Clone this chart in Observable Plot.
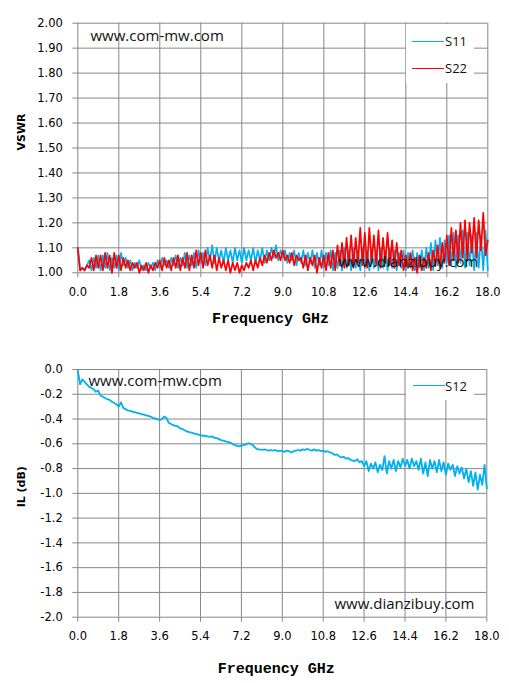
<!DOCTYPE html>
<html>
<head>
<meta charset="utf-8">
<script src="https://cdn.jsdelivr.net/npm/d3@7"></script>
<script src="https://cdn.jsdelivr.net/npm/@observablehq/plot@0.6"></script>
<style>
  body { margin: 0; background: #fff; }
  #wrap { position: relative; width: 509px; height: 683px; background: #fff; overflow: hidden; }
  #wrap svg { display: block; }
  .abs { position: absolute; }
  .legtxt { position: absolute; font-family: "Open Sans", sans-serif; font-size: 13px; line-height: 16px; color: #111; white-space: nowrap; }
</style>
</head>
<body>
<div id="wrap">
  <div id="topChart"></div>
  <div id="botChart"></div>
</div>
<script>
// ---------- DATA ----------
const freqStep = 0.1; // GHz, sample spacing of the traces (0.0 ... 18.0)
const xTicks = [0, 1.8, 3.6, 5.4, 7.2, 9.0, 10.8, 12.6, 14.4, 16.2, 18.0];
const vswrTicks = [1.0, 1.1, 1.2, 1.3, 1.4, 1.5, 1.6, 1.7, 1.8, 1.9, 2.0];
const ilTicks = [0, -0.2, -0.4, -0.6, -0.8, -1.0, -1.2, -1.4, -1.6, -1.8, -2.0];
const seriesNames = ["S11", "S22", "S12"];
const xTitle = "Frequency GHz";
const watermark1 = "www.com-mw.com";
const watermark2 = "www.dianzibuy.com";

const s11 = [
  1.10, 1.01, 1.02, 1.01, 1.03, 1.05, 1.01, 1.06, 1.02, 1.07,
  1.01, 1.07, 1.02, 1.08, 1.01, 1.06, 1.02, 1.07, 1.01, 1.08,
  1.03, 1.06, 1.02, 1.05, 1.01, 1.04, 1.02, 1.05, 1.01, 1.03,
  1.01, 1.04, 1.02, 1.04, 1.01, 1.05, 1.02, 1.06, 1.03, 1.05,
  1.02, 1.06, 1.03, 1.07, 1.02, 1.06, 1.03, 1.08, 1.02, 1.07,
  1.03, 1.08, 1.02, 1.09, 1.04, 1.08, 1.03, 1.10, 1.05, 1.11,
  1.04, 1.10, 1.05, 1.09, 1.04, 1.10, 1.05, 1.09, 1.04, 1.10,
  1.05, 1.09, 1.04, 1.10, 1.05, 1.09, 1.05, 1.10, 1.04, 1.09,
  1.05, 1.10, 1.04, 1.09, 1.05, 1.10, 1.06, 1.11, 1.05, 1.09,
  1.06, 1.09, 1.04, 1.08, 1.05, 1.09, 1.03, 1.08, 1.04, 1.09,
  1.03, 1.08, 1.04, 1.09, 1.02, 1.08, 1.03, 1.09, 1.02, 1.08,
  1.03, 1.09, 1.01, 1.08, 1.02, 1.09, 1.01, 1.10, 1.02, 1.09,
  1.01, 1.10, 1.02, 1.09, 1.01, 1.10, 1.02, 1.09, 1.01, 1.10,
  1.02, 1.09, 1.01, 1.10, 1.02, 1.09, 1.01, 1.10, 1.02, 1.09,
  1.01, 1.08, 1.02, 1.09, 1.01, 1.08, 1.02, 1.09, 1.01, 1.08,
  1.02, 1.09, 1.01, 1.10, 1.02, 1.12, 1.01, 1.13, 1.03, 1.14,
  1.02, 1.13, 1.04, 1.15, 1.03, 1.16, 1.02, 1.15, 1.04, 1.17,
  1.02, 1.16, 1.03, 1.15, 1.01, 1.16, 1.02, 1.15, 1.01, 1.17,
  1.01
];

const s22 = [
  1.10, 1.01, 1.02, 1.01, 1.03, 1.02, 1.06, 1.01, 1.07, 1.02,
  1.07, 1.01, 1.08, 1.02, 1.07, 1.00, 1.08, 1.02, 1.07, 1.01,
  1.06, 1.02, 1.05, 1.01, 1.04, 1.02, 1.04, 1.00, 1.03, 1.01,
  1.04, 1.00, 1.03, 1.01, 1.04, 1.02, 1.05, 1.01, 1.06, 1.02,
  1.05, 1.01, 1.06, 1.02, 1.07, 1.01, 1.06, 1.02, 1.08, 1.01,
  1.07, 1.02, 1.09, 1.03, 1.08, 1.02, 1.09, 1.03, 1.07, 1.02,
  1.07, 1.01, 1.06, 1.02, 1.05, 1.01, 1.05, 1.00, 1.04, 1.01,
  1.04, 1.00, 1.03, 1.01, 1.04, 1.02, 1.05, 1.01, 1.05, 1.02,
  1.06, 1.03, 1.07, 1.04, 1.08, 1.05, 1.09, 1.06, 1.08, 1.05,
  1.09, 1.05, 1.07, 1.04, 1.08, 1.03, 1.07, 1.05, 1.06, 1.02,
  1.07, 1.01, 1.06, 1.03, 1.07, 1.00, 1.06, 1.02, 1.07, 1.01,
  1.08, 1.02, 1.09, 1.01, 1.11, 1.03, 1.12, 1.02, 1.14, 1.03,
  1.15, 1.02, 1.14, 1.04, 1.18, 1.03, 1.16, 1.02, 1.18, 1.04,
  1.15, 1.03, 1.17, 1.02, 1.14, 1.04, 1.16, 1.03, 1.13, 1.02,
  1.12, 1.03, 1.09, 1.01, 1.07, 1.02, 1.08, 1.01, 1.06, 1.00,
  1.07, 1.01, 1.06, 1.02, 1.08, 1.01, 1.09, 1.03, 1.11, 1.02,
  1.12, 1.04, 1.15, 1.03, 1.18, 1.05, 1.17, 1.04, 1.20, 1.06,
  1.21, 1.05, 1.20, 1.08, 1.22, 1.06, 1.21, 1.09, 1.24, 1.07,
  1.13
];

const s12 = [
  -0.01, -0.12, -0.08, -0.10, -0.12, -0.14, -0.15, -0.16, -0.18, -0.17,
  -0.21, -0.22, -0.23, -0.24, -0.245, -0.26, -0.27, -0.28, -0.30, -0.265,
  -0.31, -0.32, -0.33, -0.335, -0.34, -0.345, -0.35, -0.355, -0.36, -0.365,
  -0.37, -0.375, -0.38, -0.39, -0.395, -0.40, -0.41, -0.40, -0.38, -0.39,
  -0.43, -0.44, -0.45, -0.455, -0.46, -0.475, -0.48, -0.49, -0.50, -0.505,
  -0.51, -0.515, -0.52, -0.525, -0.53, -0.535, -0.535, -0.54, -0.545, -0.54,
  -0.55, -0.555, -0.56, -0.57, -0.575, -0.58, -0.585, -0.59, -0.60, -0.61,
  -0.615, -0.62, -0.615, -0.61, -0.605, -0.595, -0.60, -0.61, -0.63, -0.645,
  -0.645, -0.65, -0.645, -0.65, -0.655, -0.65, -0.655, -0.65, -0.66, -0.655,
  -0.66, -0.665, -0.655, -0.66, -0.67, -0.66, -0.655, -0.65, -0.655, -0.645,
  -0.65, -0.64, -0.65, -0.655, -0.645, -0.655, -0.65, -0.66, -0.655, -0.665,
  -0.66, -0.67, -0.675, -0.69, -0.685, -0.70, -0.71, -0.705, -0.72, -0.715,
  -0.73, -0.735, -0.74, -0.725, -0.75, -0.74, -0.78, -0.74, -0.82, -0.76,
  -0.80, -0.75, -0.83, -0.77, -0.81, -0.70, -0.84, -0.74, -0.80, -0.73,
  -0.82, -0.74, -0.79, -0.72, -0.78, -0.73, -0.80, -0.72, -0.78, -0.74,
  -0.81, -0.72, -0.84, -0.75, -0.86, -0.73, -0.80, -0.74, -0.83, -0.73,
  -0.82, -0.75, -0.85, -0.76, -0.81, -0.77, -0.86, -0.78, -0.84, -0.79,
  -0.88, -0.80, -0.91, -0.82, -0.94, -0.83, -0.97, -0.85, -0.93, -0.77,
  -0.96
];

// ---------- BUILD ----------
const blue = "#00B0F0", red = "#FF0000", gridCol = "#878787";
const freqs = s11.map((_, i) => +(i * freqStep).toFixed(1));
const vswrData = freqs.map((f, i) => ({f, s11: s11[i], s22: s22[i]}));
const ilData = freqs.map((f, i) => ({f, s12: s12[i]}));

const fmt1 = d => d.toFixed(1);
const fmt2 = d => d.toFixed(2);
const baseStyle = {fontFamily: "DejaVu Sans, Verdana, sans-serif", fontSize: "11.5px", color: "#000", background: "#fff"};

function axesMarks(yTicks, yFmt) {
  return [
    Plot.gridX(xTicks, {stroke: gridCol, strokeOpacity: 1, strokeWidth: 1}),
    Plot.gridY(yTicks, {stroke: gridCol, strokeOpacity: 1, strokeWidth: 1}),
    Plot.axisX(xTicks, {tickFormat: fmt1, tickSize: 5, tickPadding: 10, stroke: gridCol, fill: "#000", label: null}),
    Plot.axisY(yTicks, {tickFormat: yFmt, tickSize: 5, tickPadding: 10, stroke: gridCol, fill: "#000", label: null})
  ];
}

const wmStyle = {fontFamily: "Open Sans, sans-serif", fontSize: 15, fill: "#111", lineAnchor: "middle"};

const topPlot = Plot.plot({
  width: 509, height: 340,
  marginTop: 22.7, marginBottom: 67.7, marginLeft: 77.3, marginRight: 21.7,
  style: baseStyle,
  x: {domain: [0, 18]},
  y: {domain: [1, 2]},
  marks: [
    ...axesMarks(vswrTicks, fmt2),
    Plot.line(vswrData, {x: "f", y: "s11", stroke: blue, strokeWidth: 1.7}),
    Plot.line(vswrData, {x: "f", y: "s22", stroke: red, strokeWidth: 1.7}),
    Plot.text([watermark1], {text: d => d, frameAnchor: "top-left", textAnchor: "start", dx: 12.7, dy: 12.5, ...wmStyle}),
    Plot.text([watermark2], {text: d => d, frameAnchor: "bottom-right", textAnchor: "end", dx: -9.3, dy: -10.5, ...wmStyle}),
    Plot.text(["VSWR"], {text: d => d, frameAnchor: "left", rotate: -90, dx: -56.5, dy: 2.5, fontWeight: "bold", fontSize: 11, fill: "#000", lineAnchor: "middle"}),
    Plot.text([xTitle], {text: d => d, frameAnchor: "bottom", dx: -12.3, dy: 45.2, fontFamily: "Liberation Mono, monospace", fontWeight: "bold", fontSize: 15, fill: "#000", lineAnchor: "middle"})
  ]
});
document.getElementById("topChart").appendChild(topPlot);

const botPlot = Plot.plot({
  width: 509, height: 343,
  marginTop: 29, marginBottom: 66.3, marginLeft: 77.3, marginRight: 22.7,
  style: baseStyle,
  x: {domain: [0, 18]},
  y: {domain: [-2, 0]},
  marks: [
    ...axesMarks(ilTicks, fmt1),
    Plot.line(ilData, {x: "f", y: "s12", stroke: blue, strokeWidth: 1.8}),
    Plot.text([watermark1], {text: d => d, frameAnchor: "top-left", textAnchor: "start", dx: 10.7, dy: 11.3, ...wmStyle}),
    Plot.text([watermark2], {text: d => d, frameAnchor: "bottom-right", textAnchor: "end", dx: -12.3, dy: -12.7, ...wmStyle}),
    Plot.text(["IL (dB)"], {text: d => d, frameAnchor: "left", rotate: -90, dx: -56, dy: 14, fontWeight: "bold", fontSize: 11, fill: "#000", lineAnchor: "middle"}),
    Plot.text([xTitle], {text: d => d, frameAnchor: "bottom", dx: -6, dy: 50.8, fontFamily: "Liberation Mono, monospace", fontWeight: "bold", fontSize: 15, fill: "#000", lineAnchor: "middle"})
  ]
});
document.getElementById("botChart").appendChild(botPlot);

// ---------- LEGENDS (HTML overlay inside the plot areas) ----------
const wrap = document.getElementById("wrap");
function box(l, t, w, h) {
  const d = document.createElement("div");
  d.className = "abs";
  Object.assign(d.style, {left: l + "px", top: t + "px", width: w + "px", height: h + "px", background: "#fff"});
  wrap.appendChild(d);
}
function legItem(name, color, lineX, lineY, textX) {
  const ln = document.createElement("div");
  ln.className = "abs";
  Object.assign(ln.style, {left: lineX + "px", top: (lineY - 0.7) + "px", width: "32px", height: "1.4px", background: color});
  wrap.appendChild(ln);
  const tx = document.createElement("div");
  tx.className = "legtxt";
  tx.textContent = name;
  Object.assign(tx.style, {left: textX + "px", top: (lineY - 8.2) + "px"});
  wrap.appendChild(tx);
}
box(405.5, 24, 68.5, 59);
legItem(seriesNames[0], blue, 412, 41.3, 445);
legItem(seriesNames[1], red, 412, 68.3, 445);
box(405.5, 370, 68.5, 30);
legItem(seriesNames[2], blue, 413, 385.7, 445);
</script>
</body>
</html>
